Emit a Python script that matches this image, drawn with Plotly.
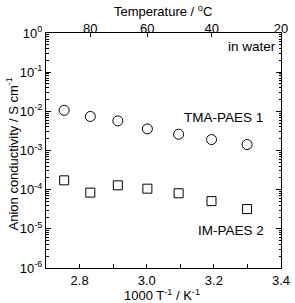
import plotly.graph_objects as go

inv_T = [2.754, 2.832, 2.914, 3.002, 3.095, 3.193, 3.299]
tma_paes1 = [0.0106, 0.0074, 0.0057, 0.00356, 0.0026, 0.0019, 0.00142]
im_paes2 = [1.73e-4, 8.4e-5, 1.29e-4, 1.06e-4, 8.1e-5, 5.1e-5, 3.2e-5]

x_ticks = [2.8, 3.0, 3.2, 3.4]
temp_labels = ["80", "60", "40", "20"]
temp_pos = [2.8317, 3.0017, 3.1934, 3.4]
y_major = [1e-6, 1e-5, 1e-4, 1e-3, 1e-2, 1e-1, 1]
y_labels = ["10<sup>-6</sup>", "10<sup>-5</sup>", "10<sup>-4</sup>", "10<sup>-3</sup>",
            "10<sup>-2</sup>", "10<sup>-1</sup>", "10<sup>0</sup>"]
y_minor = [m * 10 ** e for e in range(-6, 0) for m in range(2, 10)]

FONT = "Liberation Sans, Arial, sans-serif"

fig = go.Figure()
fig.add_trace(go.Scatter(x=inv_T, y=tma_paes1, mode="markers", name="TMA-PAES 1",
                         marker=dict(symbol="circle-open", size=10, color="black",
                                     line=dict(width=1, color="black"))))
fig.add_trace(go.Scatter(x=inv_T, y=im_paes2, mode="markers", name="IM-PAES 2",
                         marker=dict(symbol="square-open", size=9, color="black",
                                     line=dict(width=1, color="black"))))

fig.update_layout(
    width=295, height=303,
    margin=dict(l=46, r=14, t=33, b=35, autoexpand=False),
    paper_bgcolor="white", plot_bgcolor="white",
    showlegend=False,
    font=dict(family=FONT, size=13, color="black"),
    xaxis=dict(range=[2.7, 3.4], tickvals=x_ticks, ticktext=["2.8", "3.0", "3.2", "3.4"],
               ticks="inside", ticklen=4, tickcolor="black", showline=True,
               linecolor="black", linewidth=1, showgrid=False, zeroline=False,
               automargin=False,
               minor=dict(tickvals=[2.9, 3.1, 3.3], ticks="inside", ticklen=4, tickcolor="black")),
    xaxis2=dict(range=[2.7, 3.4], overlaying="x", side="top", anchor="y",
                tickvals=temp_pos, ticktext=temp_labels, ticks="inside", ticklen=4,
                tickcolor="black", showline=True, linecolor="black", linewidth=1,
                showgrid=False, zeroline=False, automargin=False, ticklabelstandoff=-6),
    yaxis=dict(type="log", range=[-6, 0], tickvals=y_major, ticktext=y_labels,
               ticks="inside", ticklen=5, tickcolor="black", showline=True,
               linecolor="black", linewidth=1, mirror="ticks", showgrid=False, zeroline=False,
               automargin=False),
    yaxis3=dict(type="log", range=[-6, 0], overlaying="y", anchor="x", side="left",
                tickvals=y_minor, ticks="inside", ticklen=2.5, tickcolor="black",
                showticklabels=False, showline=False, mirror="ticks", showgrid=False,
                zeroline=False, automargin=False),
)

fig.add_trace(go.Scatter(x=[None], y=[None], xaxis="x2", yaxis="y3", showlegend=False))

# axis titles
fig.add_annotation(x=0.498, y=1.093, xref="paper", yref="paper", showarrow=False,
                   text="Temperature / <sup>o</sup>C", font=dict(size=13),
                   xanchor="center", yanchor="middle")
fig.add_annotation(x=0.494, y=-0.115, xref="paper", yref="paper", showarrow=False,
                   text="1000 T<sup>-1</sup> / K<sup>-1</sup>", font=dict(size=13),
                   xanchor="center", yanchor="middle")
fig.add_annotation(x=-0.145, y=0.487, xref="paper", yref="paper", showarrow=False,
                   text="Anion conductivity / S cm<sup>-1</sup>", font=dict(size=13),
                   textangle=-90, xanchor="center", yanchor="middle")

fig.add_annotation(x=3.39, y=-0.35, yref="y", xref="x", text="in water", showarrow=False,
                   xanchor="right", yanchor="middle", font=dict(size=13.5))
fig.add_annotation(x=3.23, y=-2.16, xref="x", yref="y", text="TMA-PAES 1", showarrow=False,
                   font=dict(size=13.5))
fig.add_annotation(x=3.25, y=-5.03, xref="x", yref="y", text="IM-PAES 2", showarrow=False,
                   font=dict(size=13.5))

fig.write_html("out.html")
